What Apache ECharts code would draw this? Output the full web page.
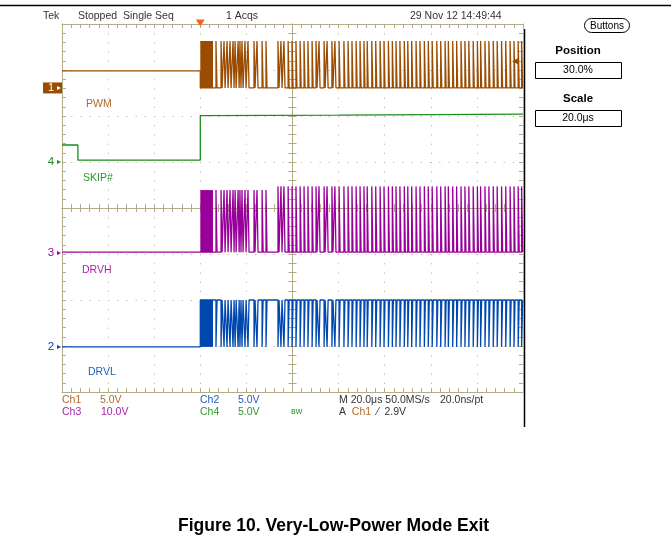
<!DOCTYPE html>
<html><head><meta charset="utf-8">
<script src="https://cdn.jsdelivr.net/npm/echarts@6/dist/echarts.min.js"></script>
<style>html,body{margin:0;padding:0;background:#fff;}#c{width:671px;height:542px;}</style>
</head><body><div id="c"></div>
<script>
// ---------- data (time in microseconds, levels in volts) ----------
const timeRange = [-60, 140];
const divRange = [-4, 4];
const triggerTime = 0;
const burstWindow = [0, 5.5];
const pulseTimes = [6.8, 9.0, 10.3, 11.6, 12.9, 14.2, 15.1, 16.4, 17.2, 18.1, 19.4, 20.7, 23.3, 24.6, 26.8, 28.5,
  33.7, 35.0, 36.3, 38.1, 39.8, 41.5, 43.3, 45.0, 46.7, 48.5, 50.2, 51.5, 53.7, 55.0, 57.1, 58.4, 60.2, 62.3, 64.1,
  65.8, 67.6, 69.3, 71.0, 72.4, 74.4, 76.1, 78.0, 79.7, 81.6, 83.3, 84.9, 86.6, 88.5, 90.0, 91.7, 93.6, 95.3, 97.2,
  98.9, 100.6, 102.6, 104.3, 106.2, 107.6, 109.5, 111.2, 113.1, 114.8, 116.5, 118.4, 120.2, 121.6, 123.5, 125.2,
  127.1, 128.8, 130.7, 132.5, 134.4, 136.1, 137.9, 139.4];
const pulseWidth = 0.45;
const channelOffsets = {ch1: 2.61, ch2: -3.02, ch3: -0.98, ch4: 1.0};   // ground markers, divisions
const channelScales  = {ch1: 5, ch2: 5, ch3: 10, ch4: 5};              // V/div
const pwmLevels  = {pre: 1.85, low: 0, high: 5.1};
const skipPoints = [[-60, 1.85], [-53.1, 1.85], [-53.1, 0.2], [0, 0.2], [0, 5.05], [60, 5.1], [140, 5.2]];
const drvhLevels = {low: 0.2, highEarly: 13.7, highLate: 14.5, splitTime: 30};
const drvlLevels = {low: 0, high: 5.1};
const trigLevel = 2.9;

// ---------- build ----------
const FONT = 'Liberation Sans, Arial, sans-serif';
const tan = '#b3ab88', dot = '#c2baa0';
const C = {pwm:'#9a4c00', pwmLab:'#b0692a', skip:'#1e8c1e', skipLab:'#2a9a2a', drvh:'#990099', drvhLab:'#aa22aa', drvl:'#0048b0', drvlLab:'#2060c0'};
const dv = (ch, v) => channelOffsets[ch] + v / channelScales[ch];

const pLo = dv('ch1', pwmLevels.low), pHi = dv('ch1', pwmLevels.high);
const pwmData = [[timeRange[0], dv('ch1', pwmLevels.pre)], [triggerTime, dv('ch1', pwmLevels.pre)], [triggerTime, pLo], [burstWindow[1], pLo]];
pulseTimes.forEach(p => pwmData.push([p, pLo], [p, pHi], [p + pulseWidth, pHi], [p + pulseWidth, pLo]));
pwmData.push([timeRange[1], pLo]);

const hLo = dv('ch3', drvhLevels.low);
const drvhData = [[timeRange[0], hLo], [burstWindow[1], hLo]];
pulseTimes.forEach(p => {
  const hi = dv('ch3', p < drvhLevels.splitTime ? drvhLevels.highEarly : drvhLevels.highLate);
  drvhData.push([p, hLo], [p, hi], [p + pulseWidth, hi], [p + pulseWidth, hLo]);
});
drvhData.push([timeRange[1], hLo]);

const lLo = dv('ch2', drvlLevels.low), lHi = dv('ch2', drvlLevels.high);
const drvlData = [[timeRange[0], lLo], [triggerTime, lLo], [triggerTime, lHi], [burstWindow[1], lHi]];
pulseTimes.forEach(p => drvlData.push([p, lHi], [p, lLo], [p + pulseWidth, lLo], [p + pulseWidth, lHi]));
drvlData.push([timeRange[1], lHi]);

const skipData = skipPoints.map(([t, v]) => [t, dv('ch4', v)]);

function xAx(extra) {
  return Object.assign({type:'value', min:timeRange[0], max:timeRange[1], interval:20,
    axisLabel:{show:false}, splitLine:{show:false},
    axisLine:{show:true, onZero:false, lineStyle:{color:tan, width:1}},
    axisTick:{show:true, inside:true, length:4, lineStyle:{color:tan}},
    minorTick:{show:true, splitNumber:5, length:4, lineStyle:{color:tan}}}, extra);
}
function yAx(extra) {
  return Object.assign({type:'value', min:divRange[0], max:divRange[1], interval:1,
    axisLabel:{show:false}, splitLine:{show:false},
    axisLine:{show:true, onZero:false, lineStyle:{color:tan, width:1}},
    axisTick:{show:true, inside:true, length:4, lineStyle:{color:tan}},
    minorTick:{show:true, splitNumber:5, length:4, lineStyle:{color:tan}}}, extra);
}
const GL = 62, GT = 24, GW = 461, GH = 368;

function line(name, data, color, z, extra) {
  return Object.assign({name, type:'line', data, xAxisIndex:0, yAxisIndex:0, showSymbol:false, symbol:'none',
    animation:false, z, lineStyle:{color, width:1.3}, silent:true}, extra || {});
}
function burstArea(color, lo, hi) {
  return {silent:true, itemStyle:{color, opacity:1}, data:[[{coord:[burstWindow[0], lo]}, {coord:[burstWindow[1], hi]}]]};
}

const chart = echarts.init(document.getElementById('c'));
const txt = (x, y, text, color, size) => ({type:'text', x, y,
  style:{text, fill:color, font:`${size||10.5}px ${FONT}`, textVerticalAlign:'middle'}});
const ctxt = (x, y, text, font) => ({type:'text', x, y, style:{text, fill:'#000', font, textAlign:'center', textVerticalAlign:'middle'}});

chart.setOption({
  animation:false,
  grid:{left:GL, top:GT, width:GW, height:GH, show:false},
  title:{text:'Figure 10. Very-Low-Power Mode Exit', left:173, top:512,
    textStyle:{fontFamily:FONT, fontWeight:'bold', fontSize:17.5, color:'#000'}},
  xAxis:[
    xAx({position:'bottom', splitLine:{show:true, lineStyle:{color:dot, type:[1.2, 8.0], width:1}}}),
    xAx({position:'top'}),
    xAx({position:'bottom', offset:-GH/2}),
    xAx({position:'bottom', offset:-GH/2, axisTick:{show:true, inside:false, length:4, lineStyle:{color:tan}}, minorTick:{show:true, splitNumber:5, length:4, lineStyle:{color:tan}}})
  ],
  yAxis:[
    yAx({position:'left', splitLine:{show:true, lineStyle:{color:dot, type:[1.2, 8.0], width:1}}}),
    yAx({position:'right'}),
    yAx({position:'left', offset:-GW/2}),
    yAx({position:'left', offset:-GW/2, axisTick:{show:true, inside:false, length:4, lineStyle:{color:tan}}, minorTick:{show:true, splitNumber:5, length:4, lineStyle:{color:tan}}})
  ],
  series:[
    line('DRVL', drvlData, C.drvl, 3, {markArea: burstArea(C.drvl, lLo, lHi)}),
    line('DRVH', drvhData, C.drvh, 4, {markArea: burstArea(C.drvh, hLo, dv('ch3', drvhLevels.highEarly))}),
    line('SKIP#', skipData, C.skip, 5),
    line('PWM', pwmData, C.pwm, 6, {
      markArea: burstArea(C.pwm, pLo, pHi),
      markPoint:{silent:true, animation:false, label:{show:false}, data:[
        {coord:[triggerTime, divRange[1]], symbol:'triangle', symbolSize:[9,7], symbolRotate:180, symbolOffset:[0,-1], itemStyle:{color:'#f26522'}},
        {coord:[timeRange[1], dv('ch1', trigLevel)], symbol:'triangle', symbolSize:[6,6], symbolRotate:90, symbolOffset:[-8,0], itemStyle:{color:C.pwm}}
      ]}
    })
  ]
});

const graphics = [
  {type:'line', shape:{x1:0, y1:5.5, x2:671, y2:5.5}, style:{stroke:'#000', lineWidth:1.3}},
  {type:'line', shape:{x1:524.5, y1:29, x2:524.5, y2:427}, style:{stroke:'#000', lineWidth:1.5}},
  txt(43, 16, 'Tek', '#333'),
  txt(78, 16, 'Stopped  Single Seq', '#333'),
  txt(226, 16, '1 Acqs', '#333'),
  txt(410, 16, '29 Nov 12 14:49:44', '#333'),
  {type:'rect', shape:{x:584.5, y:18.5, width:45, height:14, r:7}, style:{fill:'none', stroke:'#000', lineWidth:1}},
  ctxt(607, 26, 'Buttons', `10px ${FONT}`),
  ctxt(578, 51, 'Position', `bold 11.5px ${FONT}`),
  {type:'rect', shape:{x:535.5, y:62.5, width:86, height:16}, style:{fill:'none', stroke:'#000', lineWidth:1}},
  ctxt(578, 70.5, '30.0%', `10.5px ${FONT}`),
  ctxt(578, 99, 'Scale', `bold 11.5px ${FONT}`),
  {type:'rect', shape:{x:535.5, y:110.5, width:86, height:16}, style:{fill:'none', stroke:'#000', lineWidth:1}},
  ctxt(578, 118.5, '20.0μs', `10.5px ${FONT}`),
  txt(86, 104, 'PWM', C.pwmLab),
  txt(83, 178, 'SKIP#', C.skipLab),
  txt(82, 270, 'DRVH', C.drvhLab),
  txt(88, 372, 'DRVL', C.drvlLab),
  txt(62, 400, 'Ch1', C.pwmLab), txt(100, 400, '5.0V', C.pwmLab),
  txt(62, 412, 'Ch3', C.drvhLab), txt(101, 412, '10.0V', C.drvhLab),
  txt(200, 400, 'Ch2', C.drvlLab), txt(238, 400, '5.0V', C.drvlLab),
  txt(200, 412, 'Ch4', C.skipLab), txt(238, 412, '5.0V', C.skipLab),
  txt(291, 412, 'ʙᴡ', C.skipLab, 9),
  txt(339, 400, 'M 20.0μs 50.0MS/s', '#333'),
  txt(440, 400, '20.0ns/pt', '#333'),
  {type:'text', x:339, y:412, style:{text:'A  {b|Ch1}  ⁄  2.9V', fill:'#333', font:`10.5px ${FONT}`, textVerticalAlign:'middle',
    rich:{b:{fill:C.pwmLab, font:`10.5px ${FONT}`}}}}
];
// channel ground markers, placed from the channel offsets through the chart's own scale
const markerDefs = [['1', 'ch1', C.pwm, true], ['4', 'ch4', C.skip, false], ['3', 'ch3', C.drvh, false], ['2', 'ch2', C.drvl, false]];
markerDefs.forEach(([lab, ch, col, boxed]) => {
  const y = chart.convertToPixel({gridIndex:0}, [timeRange[0], channelOffsets[ch]])[1];
  if (boxed) {
    graphics.push({type:'rect', shape:{x:43, y:y-5.5, width:19, height:11}, style:{fill:col}});
    graphics.push({type:'text', x:51, y:y, style:{text:lab, fill:'#fff', font:`11px ${FONT}`, textAlign:'center', textVerticalAlign:'middle'}});
    graphics.push({type:'polygon', shape:{points:[[57,y-2],[61,y],[57,y+2]]}, style:{fill:'#fff'}});
  } else {
    graphics.push({type:'text', x:51, y:y, style:{text:lab, fill:col, font:`11.5px ${FONT}`, textAlign:'center', textVerticalAlign:'middle'}});
    graphics.push({type:'polygon', shape:{points:[[57,y-2],[61,y],[57,y+2]]}, style:{fill:col}});
  }
});
chart.setOption({graphic: graphics});
</script></body></html>
